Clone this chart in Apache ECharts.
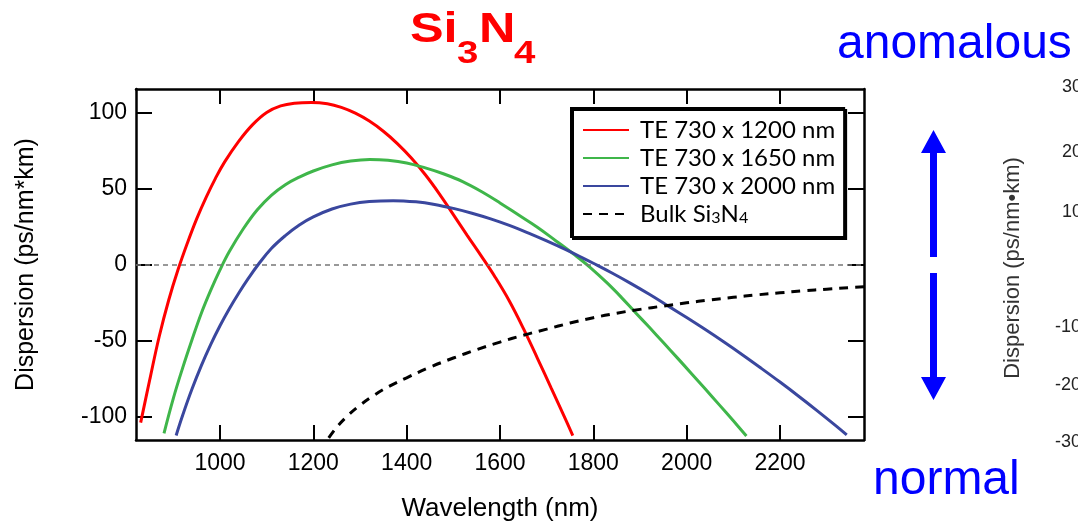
<!DOCTYPE html>
<html><head><meta charset="utf-8">
<script src="https://cdn.jsdelivr.net/npm/echarts@6/dist/echarts.min.js"></script>
<style>html,body{margin:0;padding:0;background:#fff}#c{width:1078px;height:527px}</style>
</head><body><div id="c"></div>
<script>
// ---- data ----
const xTicks = [1000, 1200, 1400, 1600, 1800, 2000, 2200];
const yTicks = [-100, -50, 0, 50, 100];
const seriesNames = ['TE 730 x 1200 nm', 'TE 730 x 1650 nm', 'TE 730 x 2000 nm', 'Bulk Si3N4'];
const te1200 = [[830,-104],[850,-75],[870,-47],[890,-23.5],[910,-3.5],[930,14],[950,30],[970,44],[990,56.5],[1010,67.5],[1040,81],[1070,92],[1100,100],[1130,104.3],[1160,106.1],[1196,106.6],[1230,105.7],[1260,103.3],[1290,99.5],[1320,94.3],[1350,87.6],[1380,79.5],[1410,70],[1440,59],[1470,46.5],[1500,32.8],[1530,19],[1560,5.5],[1590,-8.5],[1620,-24],[1650,-42],[1680,-61.5],[1710,-81.5],[1740,-101.5],[1756,-112.5]];
const te1650 = [[880,-111],[900,-88],[920,-68],[940,-49.5],[960,-32],[980,-17],[1000,-3.5],[1020,8.5],[1050,23.5],[1080,36],[1110,45.5],[1140,52.5],[1170,57.5],[1200,61.5],[1240,65.5],[1280,68],[1321,69],[1360,68.5],[1400,66.8],[1440,63.5],[1480,59.5],[1520,54.5],[1560,48],[1600,40.5],[1640,32.5],[1680,24.5],[1720,15.5],[1760,6.3],[1793,-1.9],[1830,-12.3],[1860,-21.6],[1890,-31.5],[1920,-41.3],[1950,-51.3],[1980,-61.4],[2010,-71.6],[2040,-81.9],[2070,-92.3],[2100,-102.8],[2128,-112.7]];
const te2000 = [[906,-112.4],[920,-99.1],[940,-81.9],[960,-66.5],[980,-52.7],[1000,-40.3],[1020,-29.1],[1040,-18.9],[1060,-9.5],[1082,0],[1110,10.5],[1140,19],[1170,26],[1200,31.3],[1240,36.5],[1280,39.7],[1320,41.4],[1371,42],[1420,41.2],[1460,39.5],[1500,36.9],[1540,33.7],[1580,30],[1620,25.7],[1660,20.8],[1700,15.5],[1740,9.9],[1780,3.9],[1800,0.8],[1840,-5.6],[1880,-12.4],[1920,-19.6],[1960,-27.2],[2000,-34.9],[2040,-42.8],[2080,-51],[2120,-59.5],[2160,-68.3],[2200,-77.3],[2240,-86.6],[2280,-96.2],[2320,-106.1],[2343,-112]];
const bulk = [[1233,-114],[1250,-107],[1275,-99],[1300,-92.5],[1330,-86],[1360,-80.5],[1400,-74.5],[1450,-67.5],[1500,-61.5],[1550,-56],[1600,-51],[1650,-46.5],[1700,-42.5],[1750,-38.5],[1800,-35],[1850,-32],[1900,-29.5],[1950,-27.3],[2000,-25.2],[2050,-23.3],[2100,-21.6],[2150,-20],[2200,-18.6],[2250,-17.3],[2300,-16.2],[2350,-15.2],[2380,-14.7]];
const rightTickLabels = ['30', '20', '10', '-10', '-20', '-30'];

const colors = ['#ff0000', '#3fb64a', '#3a479e', '#000000'];
const chart = echarts.init(document.getElementById('c'));

const axisFont = '"Liberation Sans", Arial, sans-serif';
function mkX(pos, showLabel) {
  return {
    type: 'value', position: pos, min: 820, max: 2380,
    axisLine: {show: true, onZero: false, lineStyle: {color: '#000', width: 2.5}},
    axisTick: {show: true, inside: true, length: 15, customValues: xTicks, lineStyle: {color: '#000', width: 2}},
    axisLabel: {show: showLabel, customValues: xTicks, margin: 12, color: '#000', fontSize: 23, fontFamily: axisFont,
      formatter: function (v) { return String(v); }},
    splitLine: {show: false},
    name: showLabel ? 'Wavelength (nm)' : '', nameLocation: 'middle', nameGap: 56,
    nameTextStyle: {fontSize: 26, color: '#000', fontFamily: axisFont}
  };
}
function mkY(pos, showLabel) {
  return {
    type: 'value', position: pos, min: -115.4, max: 115.4,
    axisLine: {show: true, onZero: false, lineStyle: {color: '#000', width: 2.5}},
    axisTick: {show: true, inside: true, length: 16, customValues: yTicks, lineStyle: {color: '#000', width: 2}},
    axisLabel: {show: showLabel, customValues: yTicks, margin: 9, color: '#000', fontSize: 23, fontFamily: axisFont,
      formatter: function (v) { return String(v); }},
    splitLine: {show: false},
    name: showLabel ? 'Dispersion (ps/nm*km)' : '', nameLocation: 'middle', nameGap: 97,
    nameTextStyle: {fontSize: 25, color: '#000', fontFamily: axisFont}
  };
}
function mkLine(i, data, dashed) {
  return {
    type: 'line', name: seriesNames[i], data: data, smooth: 0.4, symbol: 'none',
    xAxisIndex: 0, yAxisIndex: 0, z: 3 + i,
    lineStyle: {color: colors[i], width: 3, type: dashed ? [9, 7] : 'solid'},
    itemStyle: {color: colors[i]}
  };
}
const s0 = mkLine(0, te1200, false);
s0.markLine = {
  silent: true, symbol: 'none', label: {show: false},
  lineStyle: {color: '#777', width: 1.5, type: [5, 4]},
  data: [{yAxis: 0}]
};

const titleFont = '"Liberation Sans", Arial, sans-serif';
function tpiece(ch, x, y, fs) {
  return {type: 'text', x: x, y: y, scaleX: 1.2,
    style: {text: ch, fill: '#ff0000', font: 'bold ' + fs + 'px ' + titleFont, align: 'left', verticalAlign: 'middle'}};
}
const rightTickY = [87, 152, 212, 327, 385, 442];
const rightTickX = [1062, 1062, 1062, 1055, 1055, 1055];

chart.setOption({
  animation: false,
  backgroundColor: '#fff',
  grid: {left: 136, right: 214, top: 89, bottom: 84, containLabel: false},
  xAxis: [mkX('bottom', true), mkX('top', false)],
  yAxis: [mkY('left', true), mkY('right', false)],
  legend: {
    orient: 'vertical', left: 571, top: 108,
    data: seriesNames,
    backgroundColor: '#fff', borderColor: '#000', borderWidth: 2,
    shadowColor: '#000', shadowOffsetX: 2, shadowOffsetY: 2, shadowBlur: 0,
    padding: [10, 9, 11, 11], itemGap: 4, itemWidth: 46, itemHeight: 14,
    itemStyle: {opacity: 0},
    formatter: function (name) {
      if (name.indexOf('Bulk') === 0) return '{t|Bulk Si}{s|3}{u|N}{s|4}';
      return '{t|' + name + '}';
    },
    textStyle: {
      color: '#000', fontSize: 24, fontFamily: 'Lato, sans-serif',
      rich: {
        t: {fontSize: 24, fontFamily: 'Lato, sans-serif', color: '#000', lineHeight: 24, padding: [0, 0, 0, 6]},
        u: {fontSize: 24, fontFamily: 'Lato, sans-serif', color: '#000', lineHeight: 24},
        s: {fontSize: 16, fontFamily: 'Lato, sans-serif', color: '#000', lineHeight: 24, verticalAlign: 'bottom', padding: [8, 0, 0, 0]}
      }
    }
  },
  graphic: [
    tpiece('Si', 410, 30.3, 42),
    tpiece('3', 457, 53.8, 32),
    tpiece('N', 479, 30.3, 42),
    tpiece('4', 514, 53.8, 32),
    {type: 'text', x: 837, y: 45, style: {text: 'anomalous', fill: '#0000ff', font: '48px ' + titleFont, align: 'left', verticalAlign: 'middle'}},
    {type: 'text', x: 873, y: 481, style: {text: 'normal', fill: '#0000ff', font: '48px ' + titleFont, align: 'left', verticalAlign: 'middle'}},
    {type: 'polygon', shape: {points: [[930,257],[937,257],[937,153],[946,153],[933.5,130],[921,153],[930,153]]}, style: {fill: '#0000ff'}},
    {type: 'polygon', shape: {points: [[930,273],[937,273],[937,377],[946,377],[933.5,400],[921,377],[930,377]]}, style: {fill: '#0000ff'}},
    {type: 'text', x: 1013, y: 268, rotation: Math.PI / 2,
      style: {text: 'Dispersion (ps/nm\u2022km)', fill: '#333', font: '22px ' + titleFont, align: 'center', verticalAlign: 'middle'}}
  ].concat(rightTickLabels.map(function (t, i) {
    return {type: 'text', x: rightTickX[i], y: rightTickY[i],
      style: {text: t, fill: '#222', font: '18px ' + titleFont, align: 'left', verticalAlign: 'middle'}};
  })),
  series: [s0, mkLine(1, te1650, false), mkLine(2, te2000, false), mkLine(3, bulk, true)]
});
</script>
</body></html>
